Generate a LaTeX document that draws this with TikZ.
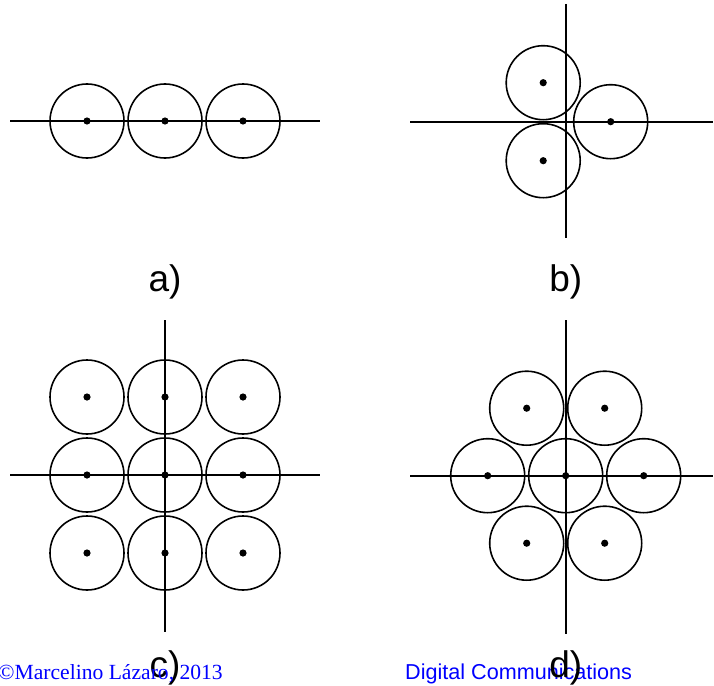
\documentclass[tikz,border=0pt]{standalone}
\usepackage{fontspec}
\setmainfont{Liberation Serif}
\setsansfont{Liberation Sans}
\begin{document}
\begin{tikzpicture}[x=1pt,y=-1pt,
  axis/.style={line width=1.8pt,black},
  ring/.style={line width=1.6pt,black},
  pt/.style={fill=black},
  lab/.style={font=\sffamily\fontsize{37}{42}\selectfont,anchor=base,inner sep=0pt},
  foot/.style={text=blue,inner sep=0pt,anchor=base west}]
\useasboundingbox (0,0) rectangle (714,685);
\def\R{37}
% panel a
\coordinate (oa) at (165,121);
\draw[axis] (10,121) -- (320,121);
\foreach \x in {-78,0,78}{
  \draw[ring] ([xshift=\x]oa) circle (\R);
  \fill[pt] ([xshift=\x]oa) circle (3.6);
}
\node[lab] (la) at (165,291) {a)};
% panel b
\coordinate (ob) at (565.7,121.7);
\draw[axis] (410,121.7) -- (713,121.7);
\draw[axis] (565.7,4) -- (565.7,238);
\foreach \dx/\dy in {-22.5/-39,-22.5/39,45/0}{
  \draw[ring] ([shift={(\dx,\dy)}]ob) circle (\R);
  \fill[pt] ([shift={(\dx,\dy)}]ob) circle (3.6);
}
\node[lab] (lb) at (565.7,291) {b)};
% panel c
\coordinate (oc) at (165,475);
\draw[axis] (10,475) -- (320,475);
\draw[axis] (165,320) -- (165,632);
\foreach \dx in {-78,0,78}{
  \foreach \dy in {-78,0,78}{
    \draw[ring] ([shift={(\dx,\dy)}]oc) circle (\R);
    \fill[pt] ([shift={(\dx,\dy)}]oc) circle (3.6);
  }
}
\node[lab] (lc) at (165,677) {c)};
% panel d
\coordinate (od) at (565.7,475.7);
\draw[axis] (410,475.7) -- (713,475.7);
\draw[axis] (565.7,320) -- (565.7,634);
\foreach \dx/\dy in {0/0,-78/0,78/0,-39/-67.5,39/-67.5,-39/67.5,39/67.5}{
  \draw[ring] ([shift={(\dx,\dy)}]od) circle (\R);
  \fill[pt] ([shift={(\dx,\dy)}]od) circle (3.6);
}
% footer
\node[foot,font=\fontsize{21.6}{24}\selectfont] (f1) at (-2,679) {\copyright Marcelino Lázaro, 2013};
\node[foot,font=\sffamily\fontsize{21.6}{24}\selectfont] (f2) at (405,679) {Digital Communications};
\node[lab] (ld) at (565.7,677) {d)};
\end{tikzpicture}
\end{document}
